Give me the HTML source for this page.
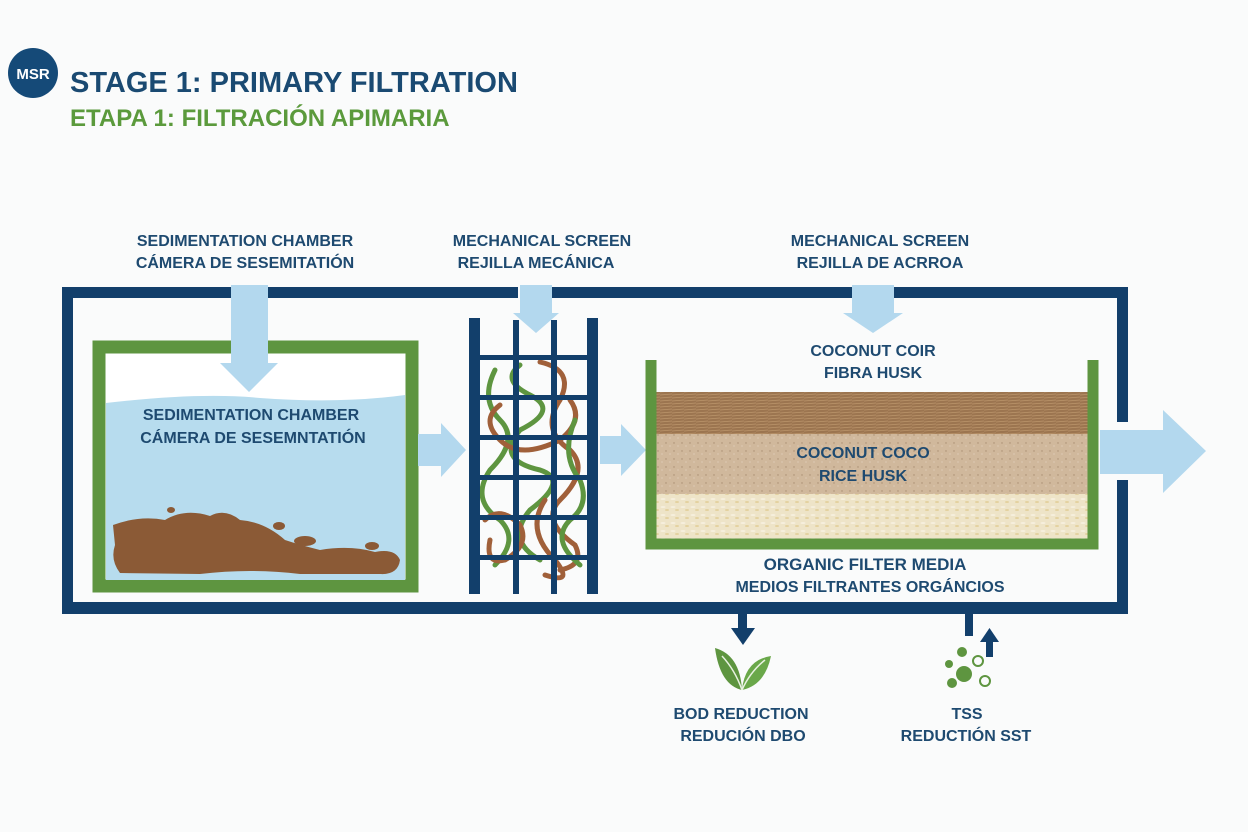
<!DOCTYPE html>
<html><head><meta charset="utf-8"><style>
html,body{margin:0;padding:0;background:#fafbfb;}
svg{display:block}
text{font-family:"Liberation Sans",sans-serif;font-weight:bold;}
</style></head><body>
<svg width="1248" height="832" viewBox="0 0 1248 832" xmlns="http://www.w3.org/2000/svg">
<defs>
<pattern id="coir" width="12" height="6" patternUnits="userSpaceOnUse">
<rect width="12" height="6" fill="#9c7550"/><path d="M0 2 L12 1 M0 5 L12 4" stroke="#bb956b" stroke-width="0.8"/>
</pattern>
<pattern id="coco" width="8" height="8" patternUnits="userSpaceOnUse">
<rect width="8" height="8" fill="#d0b89c"/><circle cx="2" cy="3" r="0.7" fill="#a98d70"/><circle cx="6" cy="6" r="0.6" fill="#e6d6c2"/>
</pattern>
<pattern id="rice" width="10" height="8" patternUnits="userSpaceOnUse">
<rect width="10" height="8" fill="#eee4c8"/><ellipse cx="3" cy="3" rx="2.5" ry="1" fill="#f6efdc"/><ellipse cx="7" cy="6" rx="2" ry="1" fill="#e4d2a0"/>
</pattern>
</defs>
<rect width="1248" height="832" fill="#fafbfb"/>
<circle cx="33" cy="73" r="25" fill="#154a78"/>
<text x="33" y="79" font-size="15" fill="#fff" text-anchor="middle" font-weight="normal">MSR</text>
<text x="70" y="92" font-size="29" fill="#1a4a72">STAGE 1: PRIMARY FILTRATION</text>
<text x="70" y="126" font-size="24" fill="#5b9a3c">ETAPA 1: FILTRACIÓN APIMARIA</text>

<g font-size="16" fill="#1e4a70" text-anchor="middle">
<text x="245" y="246">SEDIMENTATION CHAMBER</text>
<text x="245" y="268">CÁMERA DE SESEMITATIÓN</text>
<text x="542" y="246">MECHANICAL SCREEN</text>
<text x="536" y="268">REJILLA MECÁNICA</text>
<text x="880" y="246">MECHANICAL SCREEN</text>
<text x="880" y="268">REJILLA DE ACRROA</text>
</g>

<g fill="#123f6b">
<rect x="62" y="287" width="169" height="11"/>
<rect x="268" y="287" width="250" height="11"/>
<rect x="552" y="287" width="300" height="11"/>
<rect x="894" y="287" width="234" height="11"/>
<rect x="62" y="287" width="11" height="327"/>
<rect x="62" y="602" width="1066" height="12"/>
<rect x="1117" y="287" width="11" height="135"/>
<rect x="1117" y="480" width="11" height="134"/>
</g>

<rect x="99" y="347" width="313" height="239" fill="#fff" stroke="#5e9540" stroke-width="13"/>
<path d="M106 403 Q200 392 260 398 Q340 404 405 395 L405 580 L106 580 Z" fill="#b7dcee"/>
<path d="M113 525 Q140 515 165 520 Q185 508 210 516 Q225 508 240 520 Q265 522 285 540 Q300 545 320 550 Q350 545 375 552 Q395 548 400 560 Q398 575 380 574 L300 574 Q250 568 200 574 L120 573 Q110 560 115 545 Z" fill="#8b5a36"/>
<ellipse cx="171" cy="510" rx="4" ry="3" fill="#8b5a36"/>
<ellipse cx="279" cy="526" rx="6" ry="4" fill="#8b5a36"/>
<ellipse cx="305" cy="541" rx="11" ry="5" fill="#8b5a36"/>
<ellipse cx="372" cy="546" rx="7" ry="4" fill="#8b5a36"/>
<g font-size="16" fill="#1e4a70" text-anchor="middle">
<text x="251" y="420">SEDIMENTATION CHAMBER</text>
<text x="253" y="443">CÁMERA DE SESEMNTATIÓN</text>
</g>
<path d="M231 285 H268 V363 H278 L249 392 L220 363 H231 Z" fill="#b3d8ee"/>
<path d="M418 434 H441 V423 L466 450 L441 477 V466 H418 Z" fill="#b3d8ee"/>

<g fill="none" stroke-width="5" stroke-linecap="round">
<path d="M495 370 Q480 400 500 420 Q520 440 490 470 Q470 500 500 520 Q520 540 495 565" stroke="#5e9540"/>
<path d="M540 362 Q575 370 560 400 Q540 430 570 450 Q590 470 560 500 Q540 520 575 545 Q585 565 560 570" stroke="#a0603a"/>
<path d="M520 365 Q500 380 530 395 Q560 410 520 430 Q495 460 540 470 Q570 480 530 510 Q505 540 540 560" stroke="#5e9540"/>
<path d="M500 405 Q480 420 500 440 Q520 460 560 440 Q585 420 570 400" stroke="#a0603a"/>
<path d="M485 520 Q500 505 520 525 Q530 545 505 560 Q485 565 490 540" stroke="#a0603a"/>
<path d="M575 420 Q560 455 580 480 Q590 505 570 520 Q550 540 580 565" stroke="#5e9540"/>
<path d="M545 500 Q525 530 555 560 Q575 585 545 575" stroke="#a0603a"/>
</g>
<g fill="#123f6b">
<rect x="469" y="318" width="11" height="276"/>
<rect x="513" y="320" width="6" height="274"/>
<rect x="551" y="320" width="6" height="274"/>
<rect x="587" y="318" width="11" height="276"/>
<rect x="480" y="355" width="107" height="5"/>
<rect x="480" y="395" width="107" height="5"/>
<rect x="480" y="435" width="107" height="5"/>
<rect x="480" y="475" width="107" height="5"/>
<rect x="480" y="515" width="107" height="5"/>
<rect x="480" y="555" width="107" height="5"/>
</g>
<path d="M520 285 H552 V313 H559 L536 333 L513 313 H520 Z" fill="#b3d8ee"/>
<path d="M600 436 H621 V424 L646 450 L621 476 V464 H600 Z" fill="#b3d8ee"/>

<rect x="652" y="392" width="436" height="42" fill="url(#coir)"/>
<rect x="652" y="434" width="436" height="60" fill="url(#coco)"/>
<rect x="652" y="494" width="436" height="46" fill="url(#rice)"/>
<path d="M651 360 V544 H1093 V360" fill="none" stroke="#5e9540" stroke-width="11"/>
<path d="M852 285 H894 V313 H903 L873 333 L843 313 H852 Z" fill="#b3d8ee"/>
<g font-size="16" fill="#1e4a70" text-anchor="middle">
<text x="873" y="356">COCONUT COIR</text>
<text x="873" y="378">FIBRA HUSK</text>
<text x="863" y="458">COCONUT COCO</text>
<text x="863" y="481">RICE HUSK</text>
<text x="865" y="570" font-size="17">ORGANIC FILTER MEDIA</text>
<text x="870" y="592">MEDIOS FILTRANTES ORGÁNCIOS</text>
</g>
<path d="M1100 430 H1163 V410 L1206 451 L1163 493 V474 H1100 Z" fill="#b3d8ee"/>

<rect x="738" y="612" width="9" height="18" fill="#123f6b"/>
<path d="M731 628 H755 L743 645 Z" fill="#123f6b"/>
<path d="M742 690 Q720 685 715 648 Q740 655 742 690 Z" fill="#5e9540"/>
<path d="M742 690 Q765 685 771 656 Q745 660 742 690 Z" fill="#6aa84a"/>
<path d="M742 690 Q735 670 722 656 M742 690 Q750 672 765 660" stroke="#e8f1e0" stroke-width="1.5" fill="none"/>
<rect x="965" y="612" width="8" height="24" fill="#123f6b"/>
<rect x="986" y="640" width="7" height="17" fill="#123f6b"/>
<path d="M980 642 H999 L989.5 628 Z" fill="#123f6b"/>
<g fill="#5e9540">
<circle cx="962" cy="652" r="5"/><circle cx="949" cy="664" r="4"/><circle cx="964" cy="674" r="8"/><circle cx="952" cy="683" r="5"/>
</g>
<g fill="none" stroke="#5e9540" stroke-width="2">
<circle cx="978" cy="661" r="5"/><circle cx="985" cy="681" r="5"/>
</g>
<g font-size="16" fill="#1e4a70" text-anchor="middle">
<text x="741" y="719">BOD REDUCTION</text>
<text x="743" y="741">REDUCIÓN DBO</text>
<text x="967" y="719">TSS</text>
<text x="966" y="741">REDUCTIÓN SST</text>
</g>
</svg>
</body></html>
